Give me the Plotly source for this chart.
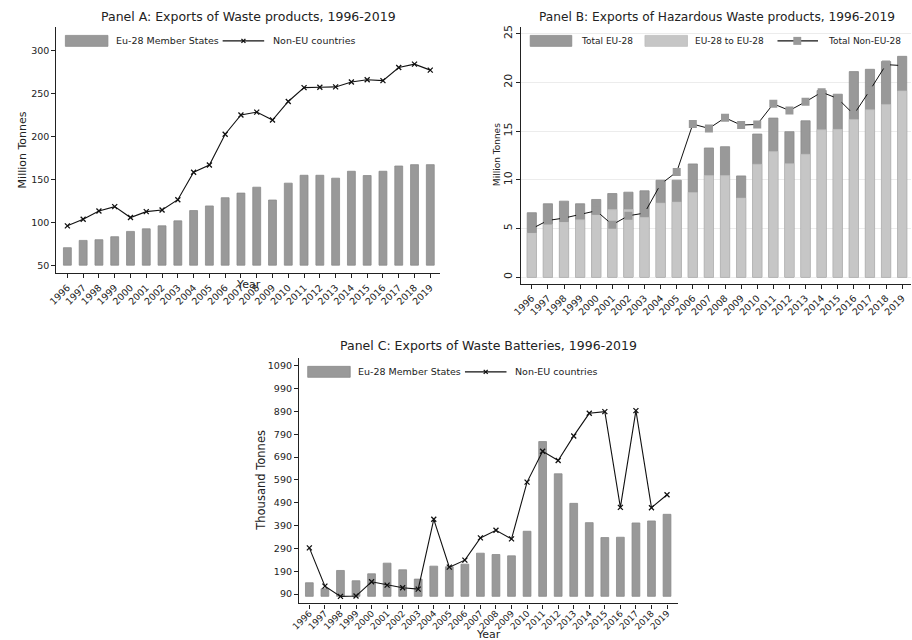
import plotly.graph_objects as go

years = list(range(1996, 2020))
year_labels = [str(y) for y in years]

# Panel A: Exports of Waste products (Million Tonnes)
waste_eu28 = [70.4, 78.9, 79.7, 83.2, 89.4, 92.4, 95.9, 101.7, 113.7, 119.1, 128.7, 134.1,
              141.0, 126.0, 145.7, 154.9, 154.9, 151.5, 159.6, 154.6, 159.6, 165.7, 167.3, 167.3]
waste_noneu = [95.9, 103.6, 113.3, 118.3, 105.6, 112.5, 114.4, 126.4, 158.4, 166.9, 202.8, 225.2,
               228.6, 219.4, 241.0, 257.2, 257.6, 258.0, 263.8, 266.4, 265.3, 280.7, 284.6, 277.6]
waste_base = 50

# Panel B: Exports of Hazardous Waste products (Million Tonnes)
haz_total_eu28 = [6.62, 7.54, 7.81, 7.54, 7.98, 8.59, 8.73, 8.87, 9.96, 9.96, 11.63, 13.27,
                  13.40, 10.40, 14.70, 16.34, 14.94, 16.06, 19.17, 18.79, 21.11, 21.35, 22.15, 22.68]
haz_eu28_to_eu28 = [4.54, 5.46, 5.66, 5.90, 6.41, 6.94, 6.94, 6.16, 7.61, 7.71, 8.70, 10.44,
                    10.44, 8.12, 11.60, 12.90, 11.66, 12.62, 15.14, 15.18, 16.20, 17.19, 17.74, 19.13]
haz_total_noneu = [4.98, 5.83, 6.07, 6.41, 6.82, 5.39, 6.31, 6.58, 9.55, 10.81, 15.72, 15.28,
                   16.37, 15.62, 15.69, 17.80, 17.12, 18.01, 19.00, 18.35, 16.71, 19.20, 21.83, 21.73]

# Panel C: Exports of Waste Batteries (Thousand Tonnes)
bat_eu28 = [139.5, 113.3, 193.3, 148.2, 178.8, 225.4, 196.3, 155.5, 212.3, 209.4, 221.0, 269.0,
            263.2, 257.4, 365.1, 758.1, 616.9, 487.4, 402.9, 337.5, 338.9, 401.5, 410.2, 439.3]
bat_noneu = [292.3, 124.9, 79.8, 81.3, 143.9, 129.3, 117.7, 111.8, 417.5, 207.9, 238.5, 336.0,
             369.5, 331.6, 580.5, 715.9, 675.1, 782.8, 881.8, 889.1, 469.9, 893.5, 468.4, 525.2]
bat_base = 80

A_ticks = [50, 100, 150, 200, 250, 300]
B_ticks = [0, 5, 10, 15, 20, 25]
C_ticks = [90, 190, 290, 390, 490, 590, 690, 790, 890, 990, 1090]

W, H = 912, 640
FONT = "DejaVu Sans"
DARK = "#999999"
DARK_LINE = "#8a8a8a"
LIGHT = "#c6c6c6"
AXC = "#222222"


def fx(p):
    return p / W


def fy(p):
    return 1 - p / H


fig = go.Figure()

# ---- Panel A ----
fig.add_trace(go.Bar(x=years, y=[v - waste_base for v in waste_eu28], base=waste_base,
                     width=0.5, marker=dict(color=DARK, line=dict(color=DARK_LINE, width=0.8)),
                     name="Eu-28 Member States", xaxis="x", yaxis="y", showlegend=False))
fig.add_trace(go.Scatter(x=years, y=waste_noneu, mode="lines+markers",
                         line=dict(color="#111111", width=1.1),
                         marker=dict(symbol="x-thin", size=5, line=dict(color="#111111", width=1.3)),
                         name="Non-EU countries", xaxis="x", yaxis="y", showlegend=False))

# ---- Panel B ----
fig.add_trace(go.Bar(x=years, y=haz_total_eu28, width=0.57,
                     marker=dict(color=DARK, line=dict(color=DARK_LINE, width=0.8)),
                     name="Total EU-28", xaxis="x2", yaxis="y2", showlegend=False))
fig.add_trace(go.Bar(x=years, y=haz_eu28_to_eu28, width=0.57,
                     marker=dict(color=LIGHT, line=dict(color="#bdbdbd", width=0.6)),
                     name="EU-28 to EU-28", xaxis="x2", yaxis="y2", showlegend=False))
fig.add_trace(go.Scatter(x=years, y=haz_total_noneu, mode="lines+markers",
                         line=dict(color="#111111", width=1.0),
                         marker=dict(symbol="square", size=8, color=DARK, line=dict(width=0)),
                         name="Total Non-EU-28", xaxis="x2", yaxis="y2", showlegend=False))

# ---- Panel C ----
fig.add_trace(go.Bar(x=years, y=[v - bat_base for v in bat_eu28], base=bat_base,
                     width=0.5, marker=dict(color=DARK, line=dict(color=DARK_LINE, width=0.8)),
                     name="Eu-28 Member States", xaxis="x3", yaxis="y3", showlegend=False))
fig.add_trace(go.Scatter(x=years, y=bat_noneu, mode="lines+markers",
                         line=dict(color="#111111", width=1.1),
                         marker=dict(symbol="x-thin", size=5, line=dict(color="#111111", width=1.3)),
                         name="Non-EU countries", xaxis="x3", yaxis="y3", showlegend=False))

xcommon = dict(tickmode="array", tickvals=years, ticktext=year_labels, tickangle=-45,
               showline=True, linecolor=AXC, linewidth=1.4, ticks="outside", ticklen=4,
               tickwidth=1, tickcolor=AXC, showgrid=False, zeroline=False)
ycommon = dict(showline=True, linecolor=AXC, linewidth=1.4, ticks="outside", ticklen=4,
               tickwidth=1, tickcolor=AXC, zeroline=False, tickmode="array")
tf = dict(family=FONT, size=9.5, color="#222")

fig.update_layout(
    width=W, height=H, margin=dict(l=0, r=0, t=0, b=0),
    paper_bgcolor="white", plot_bgcolor="white", barmode="overlay",
    font=dict(family=FONT, color="#222"),
    xaxis=dict(**xcommon, tickfont=tf, domain=[fx(47), fx(435)], range=[1995.31, 2019.63],
               anchor="y"),
    yaxis=dict(**ycommon, tickfont=tf, domain=[fy(272), fy(25)], range=[40.7, 328],
               tickvals=A_ticks, showgrid=False, anchor="x"),
    xaxis2=dict(**xcommon, tickfont=tf, domain=[fx(517), fx(911)], range=[1995.35, 2019.55],
                anchor="y2"),
    yaxis2=dict(**ycommon, tickfont=dict(family=FONT, size=11, color="#222"), tickangle=-90,
                domain=[fy(282.7), fy(25)], range=[-0.68, 25.7], tickvals=B_ticks,
                showgrid=True, gridcolor="#ececec", gridwidth=1, anchor="x2"),
    xaxis3=dict(**xcommon, tickfont=dict(family=FONT, size=9, color="#222"),
                ticklabelstandoff=-4,
                domain=[fx(292.3), fx(675)], range=[1995.34, 2019.68], anchor="y3"),
    yaxis3=dict(**ycommon, tickfont=tf, domain=[fy(603.3), fy(356.7)], range=[49, 1126],
                tickvals=C_ticks, showgrid=False, anchor="x3"),
)

ann = []
# titles
ann.append(dict(text="Panel A: Exports of Waste products, 1996-2019", x=fx(241), y=fy(15),
                font=dict(size=12.5)))
ann.append(dict(text="Panel B: Exports of Hazardous Waste products, 1996-2019", x=fx(715), y=fy(15),
                font=dict(size=12.2)))
ann.append(dict(text="Panel C: Exports of Waste Batteries, 1996-2019", x=fx(484), y=fy(345),
                font=dict(size=12.5)))
# axis titles
ann.append(dict(text="Million Tonnes", x=fx(13), y=fy(148), textangle=-90, font=dict(size=11)))
ann.append(dict(text="Year", x=fx(241), y=fy(283), font=dict(size=11)))
ann.append(dict(text="Million Tonnes", x=fx(492), y=fy(153), textangle=-90, font=dict(size=9)))
ann.append(dict(text="Thousand Tonnes", x=fx(253), y=fy(480), textangle=-90, font=dict(size=11.5)))
ann.append(dict(text="Year", x=fx(484), y=fy(634), font=dict(size=11)))

shapes = []


def leg_box(x0, x1, yc, color, line_color):
    shapes.append(dict(type="rect", xref="paper", yref="paper", x0=fx(x0), x1=fx(x1),
                       y0=fy(yc + 5.5), y1=fy(yc - 5.5), fillcolor=color,
                       line=dict(color=line_color, width=0.8)))


def leg_line(x0, x1, yc):
    shapes.append(dict(type="line", xref="paper", yref="paper", x0=fx(x0), x1=fx(x1),
                       y0=fy(yc), y1=fy(yc), line=dict(color="#111111", width=1.1)))


def leg_x(xc, yc):
    d = 2.0
    for s in (1, -1):
        shapes.append(dict(type="line", xref="paper", yref="paper", x0=fx(xc - d), x1=fx(xc + d),
                           y0=fy(yc - s * d), y1=fy(yc + s * d),
                           line=dict(color="#111111", width=1.3)))


def leg_text(x, yc, text, size=9.5):
    ann.append(dict(text=text, x=fx(x), y=fy(yc), xanchor="left", font=dict(size=size)))


# Panel A legend
leg_box(56, 99, 39, DARK, DARK_LINE)
leg_text(105, 39, "Eu-28 Member States")
leg_line(215, 257, 39)
leg_x(236, 39)
leg_text(264, 39, "Non-EU countries")

# Panel B legend
leg_box(526, 568, 39, DARK, DARK_LINE)
leg_text(575, 39, "Total EU-28", 9)
leg_box(642, 685, 39, LIGHT, "#bdbdbd")
leg_text(691, 39, "EU-28 to EU-28", 9)
leg_line(776, 817, 39)
shapes.append(dict(type="rect", xref="paper", yref="paper", x0=fx(792), x1=fx(800),
                   y0=fy(43), y1=fy(35), fillcolor=DARK, line=dict(width=0)))
leg_text(825, 39, "Total Non-EU-28", 9)

# Panel C legend
leg_box(301, 344, 371, DARK, DARK_LINE)
leg_text(350, 371, "Eu-28 Member States")
leg_line(460, 502, 371)
leg_x(481, 371)
leg_text(509, 371, "Non-EU countries")

for a in ann:
    a.setdefault("xref", "paper")
    a.setdefault("yref", "paper")
    a.setdefault("showarrow", False)
    a.setdefault("xanchor", "center")
    a.setdefault("yanchor", "middle")

fig.update_layout(annotations=ann, shapes=shapes)

fig.write_html("out.html", config={"displayModeBar": False},
               post_script="document.body.style.margin='0';document.body.style.overflow='hidden';")
